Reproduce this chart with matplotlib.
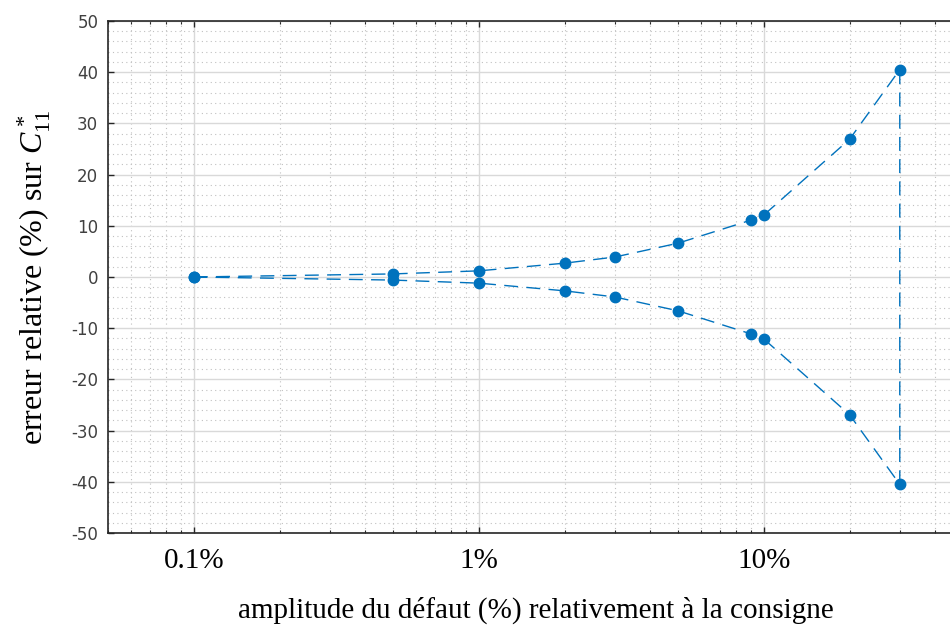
import numpy as np
import matplotlib.pyplot as plt
from matplotlib.ticker import FixedLocator, LogLocator, NullFormatter, MultipleLocator

# Données
amplitude = [0.1, 0.5, 1, 2, 3, 5, 9, 10, 20, 30]          # amplitude du défaut (%)
erreur_sup = [0.0, 0.6, 1.2, 2.7, 3.9, 6.6, 11.1, 12.1, 26.9, 40.5]
erreur_inf = [0.0, -0.6, -1.2, -2.7, -3.9, -6.6, -11.1, -12.1, -26.9, -40.5]
xticks = [0.1, 1, 10]
xticklabels = ['0.1%', '1%', '10%']

plt.rcParams['mathtext.fontset'] = 'custom'
plt.rcParams['mathtext.rm'] = 'Liberation Serif'
plt.rcParams['mathtext.it'] = 'Liberation Serif:italic'
plt.rcParams['axes.unicode_minus'] = False

bleu = '#0072BD'
gris = '#262626'

fig = plt.figure(figsize=(9.5, 6.26), dpi=100)
ax = fig.add_axes([108 / 950, 93 / 626, (963 - 108) / 950, (533 - 21) / 626])

# chemin fermé : branche haute, segment vertical, branche basse
x_path = amplitude + amplitude[::-1]
y_path = erreur_sup + erreur_inf[::-1]
ax.plot(x_path, y_path, linestyle=(0, (10, 6)), color=bleu, linewidth=1.0)
ax.plot(amplitude, erreur_sup, 'o', color=bleu, markersize=7.5, zorder=3)
ax.plot(amplitude, erreur_inf, 'o', color=bleu, markersize=7.5, zorder=3)

ax.set_xscale('log')
ax.set_xlim(0.05, 50)
ax.set_ylim(-50, 50)

ax.xaxis.set_major_locator(FixedLocator(xticks))
ax.set_xticklabels(xticklabels, fontfamily='Liberation Serif', fontsize=21)
ax.xaxis.set_minor_locator(LogLocator(base=10, subs=np.arange(2, 10)))
ax.xaxis.set_minor_formatter(NullFormatter())
ax.yaxis.set_major_locator(MultipleLocator(10))
ax.yaxis.set_minor_locator(MultipleLocator(2))

ax.tick_params(axis='both', which='major', direction='in', length=4, width=1,
               color=gris, top=True, right=True)
ax.tick_params(axis='x', which='minor', direction='in', length=2.5, width=0.8,
               color=gris, top=True)
ax.tick_params(axis='y', which='minor', length=0)
ax.tick_params(axis='x', which='major', pad=11)
ax.tick_params(axis='y', which='major', pad=7, labelsize=12, labelcolor='#404040')

ax.grid(True, which='major', color='#d9d9d9', linewidth=1.0, linestyle='-')
ax.grid(True, which='minor', color='#c0c0c0', linewidth=0.8, linestyle=(0, (1, 3)))
ax.set_axisbelow(True)

for s in ax.spines.values():
    s.set_color(gris)
    s.set_linewidth(1.2)

ax.set_xlabel('amplitude du défaut (%) relativement à la consigne',
              fontfamily='Liberation Serif', fontsize=21, labelpad=16)
ax.set_ylabel(r'erreur relative (%) sur $C^*_{11}$',
              fontfamily='Liberation Serif', fontsize=23, labelpad=13)

fig.savefig('out.png', dpi=100)
